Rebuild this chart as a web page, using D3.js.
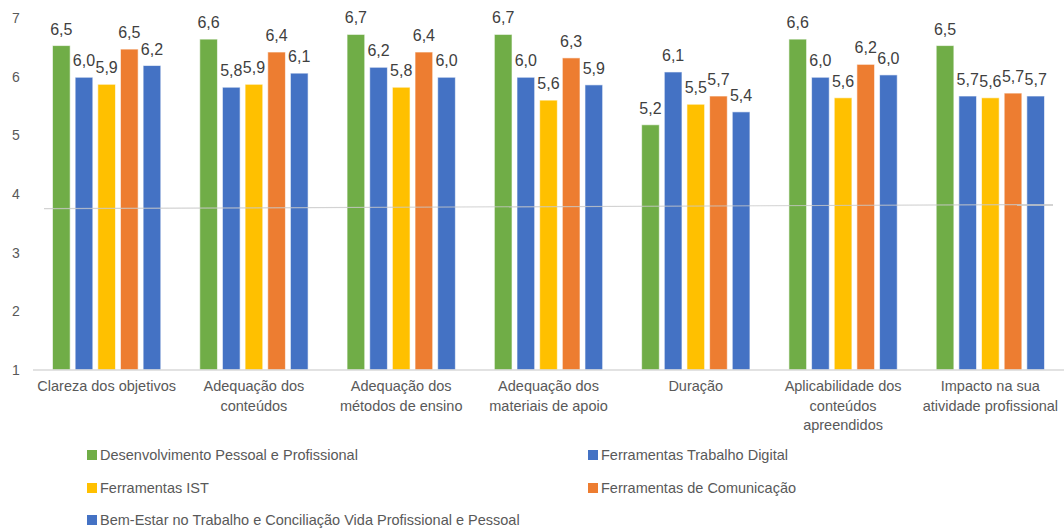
<!DOCTYPE html>
<html>
<head>
<meta charset="utf-8">
<script src="https://cdn.jsdelivr.net/npm/d3@7"></script>
<style>
  body { margin: 0; background: #fff; }
  text { font-family: "Liberation Sans", Arial, sans-serif; }
</style>
</head>
<body>
<div id="chart"></div>
<script>
// categories (wrapped lines) and series
var categories = [
    ["Clareza dos objetivos"],
    ["Adequação dos", "conteúdos"],
    ["Adequação dos", "métodos de ensino"],
    ["Adequação dos", "materiais de apoio"],
    ["Duração"],
    ["Aplicabilidade dos", "conteúdos", "apreendidos"],
    ["Impacto na sua", "atividade profissional"]
];
var seriesNames = [
    "Desenvolvimento Pessoal e Profissional",
    "Ferramentas Trabalho Digital",
    "Ferramentas IST",
    "Ferramentas de Comunicação",
    "Bem-Estar no Trabalho e Conciliação Vida Profissional e Pessoal"
];
var seriesColors = ["#70AD47", "#4472C4", "#FFC000", "#ED7D31", "#4472C4"];

var desenvolvimento = [6.53, 6.64, 6.72, 6.72, 5.18, 6.64, 6.53];
var trabalhoDigital = [5.99, 5.82, 6.16, 5.99, 6.08, 5.99, 5.67];
var ferramentasIST  = [5.87, 5.87, 5.82, 5.60, 5.53, 5.64, 5.64];
var comunicacao     = [6.47, 6.42, 6.42, 6.32, 5.67, 6.21, 5.72];
var bemEstar        = [6.19, 6.06, 5.99, 5.86, 5.40, 6.03, 5.67];
var seriesValues = [desenvolvimento, trabalhoDigital, ferramentasIST, comunicacao, bemEstar];

var yTicks = [1, 2, 3, 4, 5, 6, 7];
var refLine = [3.75, 3.82];   // faint grey line across the plot

var W = 1064, H = 528;
var plot = { left: 33, right: 1064, top: 18, bottom: 370 };

var svg = d3.select("#chart").append("svg")
    .attr("width", W)
    .attr("height", H);

var x0 = d3.scaleBand()
    .domain(d3.range(categories.length))
    .range([plot.left, plot.right]);

var x1 = d3.scaleBand()
    .domain(d3.range(seriesNames.length))
    .range([0, x0.bandwidth()])
    .paddingInner(0.22)
    .paddingOuter(0.86);

var y = d3.scaleLinear()
    .domain([1, 7])
    .range([plot.bottom, plot.top]);

// y axis labels
svg.append("g")
    .selectAll("text")
    .data(yTicks)
    .enter().append("text")
    .attr("x", 16)
    .attr("y", d => y(d))
    .attr("dy", "0.35em")
    .attr("text-anchor", "middle")
    .style("font-size", "14px")
    .style("fill", "#595959")
    .text(d => d);

// bars
var groups = svg.selectAll(".grp")
    .data(categories)
    .enter().append("g")
    .attr("transform", (d, i) => "translate(" + x0(i) + ",0)");

groups.each(function (c, ci) {
    var g = d3.select(this);
    var vals = seriesValues.map((s, si) => ({ si: si, v: s[ci] }));
    g.selectAll("rect")
        .data(vals)
        .enter().append("rect")
        .attr("x", d => x1(d.si))
        .attr("y", d => y(d.v))
        .attr("width", x1.bandwidth())
        .attr("height", d => y(1) - y(d.v))
        .attr("fill", d => seriesColors[d.si])
        .attr("stroke", "#ffffff")
        .attr("stroke-opacity", 0.6)
        .attr("stroke-width", 1);
    g.selectAll("text.val")
        .data(vals)
        .enter().append("text")
        .attr("class", "val")
        .attr("x", d => x1(d.si) + x1.bandwidth() / 2)
        .attr("y", d => y(d.v) - 11)
        .attr("text-anchor", "middle")
        .style("font-size", "16px")
        .style("fill", "#404040")
        .text(d => d.v.toFixed(1).replace(".", ","));
});

// baseline
svg.append("line")
    .attr("x1", plot.left).attr("x2", plot.right)
    .attr("y1", y(1)).attr("y2", y(1))
    .attr("stroke", "#d9d9d9")
    .attr("stroke-width", 1.5);

// faint grey line
svg.append("line")
    .attr("x1", plot.left + 11).attr("x2", plot.right - 11)
    .attr("y1", y(refLine[0])).attr("y2", y(refLine[1]))
    .attr("stroke", "#c8c8c8")
    .attr("stroke-opacity", 0.8)
    .attr("stroke-width", 1.2);

// category labels
var catLabels = svg.append("g").selectAll("text")
    .data(categories)
    .enter().append("text")
    .attr("x", (d, i) => x0(i) + x0.bandwidth() / 2)
    .attr("y", 391)
    .attr("dy", "0.35em")
    .attr("text-anchor", "middle")
    .style("font-size", "14.5px")
    .style("fill", "#595959");
catLabels.selectAll("tspan")
    .data(d => d)
    .enter().append("tspan")
    .attr("x", function () { return d3.select(this.parentNode).attr("x"); })
    .attr("dy", (d, i) => i === 0 ? 0 : 19.5)
    .text(d => d);

// legend
var legendPos = [[87, 455], [588, 455], [87, 488], [588, 488], [87, 520]];
var legend = svg.append("g").selectAll("g")
    .data(seriesNames)
    .enter().append("g")
    .attr("transform", (d, i) => "translate(" + legendPos[i][0] + "," + legendPos[i][1] + ")");
legend.append("rect")
    .attr("x", 0).attr("y", -5)
    .attr("width", 10).attr("height", 10)
    .attr("fill", (d, i) => seriesColors[i]);
legend.append("text")
    .attr("x", 13)
    .attr("dy", "0.35em")
    .style("font-size", "14.5px")
    .style("fill", "#595959")
    .text(d => d);
</script>
</body>
</html>
